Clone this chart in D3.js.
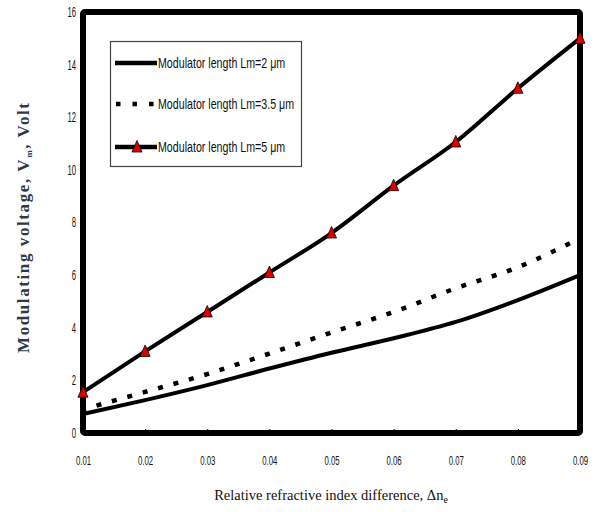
<!DOCTYPE html>
<html>
<head>
<meta charset="utf-8">
<script src="https://cdn.jsdelivr.net/npm/d3@7/dist/d3.min.js"></script>
<style>
  html, body { margin: 0; padding: 0; background: #fff; }
  svg { display: block; }
  .narrow { font-family: "Liberation Sans Narrow", "Arial Narrow", "Liberation Sans", Arial, sans-serif; }
  .serif { font-family: "Liberation Serif", "Times New Roman", serif; }
</style>
</head>
<body>
<svg id="chart" width="597" height="512"></svg>
<script>
// Relative refractive index difference (x) and modulating voltage (y, volts)
const deltaN = [0.01, 0.02, 0.03, 0.04, 0.05, 0.06, 0.07, 0.08, 0.09];
const vLm2   = [0.72, 1.25, 1.82, 2.45, 3.05, 3.6, 4.22, 5.05, 6.0];
const vLm35  = [0.9, 1.56, 2.24, 3.02, 3.82, 4.6, 5.5, 6.3, 7.4];
const vLm5   = [1.55, 3.1, 4.6, 6.1, 7.6, 9.4, 11.06, 13.1, 15.0];
const xTicks = [0.01, 0.02, 0.03, 0.04, 0.05, 0.06, 0.07, 0.08, 0.09];
const yTicks = [0, 2, 4, 6, 8, 10, 12, 14, 16];
const seriesNames = ["Modulator length Lm=2 μm", "Modulator length Lm=3.5 μm", "Modulator length Lm=5 μm"];

const svg = d3.select("#chart");
const x = d3.scaleLinear().domain([0.01, 0.09]).range([83, 580]);
const y = d3.scaleLinear().domain([0, 16]).range([433, 12]);

// squeeze a text run horizontally to get a condensed face
function condense(sel, factor) {
  sel.each(function () {
    const w = this.getComputedTextLength();
    d3.select(this).attr("textLength", w * factor).attr("lengthAdjust", "spacingAndGlyphs");
  });
}

const pts = vals => deltaN.map((d, i) => [d, vals[i]]);
const line = d3.line().x(d => x(d[0])).y(d => y(d[1])).curve(d3.curveMonotoneX);

// axes (labels only on the left, short inward ticks along the bottom)
const xAxis = svg.append("g").attr("transform", `translate(0,${y(0)})`)
  .call(d3.axisBottom(x).tickValues(xTicks).tickFormat(d3.format(".2f")).tickSize(-4).tickPadding(23));
xAxis.select(".domain").remove();
xAxis.selectAll("line").attr("stroke", "#000").attr("stroke-width", 1);
xAxis.selectAll("text").attr("class", "narrow").attr("font-size", 13).attr("fill", "#111")
  .call(condense, 0.6);

const yAxis = svg.append("g").attr("transform", `translate(${x(0.01)},0)`)
  .call(d3.axisLeft(y).tickValues(yTicks).tickSize(0).tickPadding(7));
yAxis.select(".domain").remove();
yAxis.selectAll("text").attr("class", "narrow").attr("font-size", 14).attr("fill", "#111")
  .call(condense, 0.55);

// heavy frame round the plot area
svg.append("rect")
  .attr("x", x(0.01)).attr("y", y(16))
  .attr("width", x(0.09) - x(0.01)).attr("height", y(0) - y(16))
  .attr("fill", "none").attr("stroke", "#000").attr("stroke-width", 6)
  .attr("rx", 2);

// curves
svg.append("path").datum(pts(vLm2)).attr("d", line)
  .attr("fill", "none").attr("stroke", "#000").attr("stroke-width", 4);
svg.append("path").datum(pts(vLm35)).attr("d", line)
  .attr("fill", "none").attr("stroke", "#000").attr("stroke-width", 4.5)
  .attr("stroke-dasharray", "5,11").attr("stroke-dashoffset", -14);
svg.append("path").datum(pts(vLm5)).attr("d", line)
  .attr("fill", "none").attr("stroke", "#000").attr("stroke-width", 4);

const tri = "M0,-6.5 L5,5 L-5,5 Z";
svg.append("g").selectAll("path").data(pts(vLm5)).join("path")
  .attr("d", tri)
  .attr("transform", d => `translate(${x(d[0])},${y(d[1])})`)
  .attr("fill", "#e00000").attr("stroke", "#000").attr("stroke-width", 0.8);

// legend
const lg = svg.append("g");
lg.append("rect").attr("x", 110.5).attr("y", 41.5).attr("width", 191).attr("height", 125)
  .attr("fill", "#fff").attr("stroke", "#444").attr("stroke-width", 1.2);
const rows = [63, 104, 147];
lg.append("line").attr("x1", 115).attr("x2", 157).attr("y1", rows[0]).attr("y2", rows[0])
  .attr("stroke", "#000").attr("stroke-width", 4.5);
lg.append("line").attr("x1", 116).attr("x2", 157).attr("y1", rows[1]).attr("y2", rows[1])
  .attr("stroke", "#000").attr("stroke-width", 4.5).attr("stroke-dasharray", "4.5,12");
lg.append("line").attr("x1", 115).attr("x2", 157).attr("y1", rows[2]).attr("y2", rows[2])
  .attr("stroke", "#000").attr("stroke-width", 4.5);
lg.append("path").attr("d", tri).attr("transform", `translate(137,${rows[2]})`)
  .attr("fill", "#e00000").attr("stroke", "#000").attr("stroke-width", 0.8);
lg.selectAll("text.leg").data(seriesNames).join("text")
  .attr("class", "leg narrow")
  .attr("x", 158).attr("y", (d, i) => rows[i]).attr("dy", "0.36em")
  .attr("font-size", 15).attr("fill", "#111")
  .text(d => d)
  .call(condense, 0.71);

// axis titles
const xt = svg.append("text").attr("class", "serif")
  .attr("x", 331).attr("y", 500).attr("text-anchor", "middle")
  .attr("font-size", 14.5).attr("fill", "#111");
xt.append("tspan").text("Relative refractive index difference, Δn");
xt.append("tspan").attr("font-size", 10).attr("dy", 3).text("e");

const yt = svg.append("text").attr("class", "serif")
  .attr("transform", "translate(29,228) rotate(-90)")
  .attr("text-anchor", "middle").attr("font-weight", "bold")
  .attr("font-size", 17).attr("fill", "#2e3946")
  .attr("textLength", 250).attr("lengthAdjust", "spacing");
yt.append("tspan").text("Modulating voltage, V");
yt.append("tspan").attr("font-size", 9).attr("dy", 3).text("m");
yt.append("tspan").attr("dy", -3).text(", Volt");
</script>
</body>
</html>
